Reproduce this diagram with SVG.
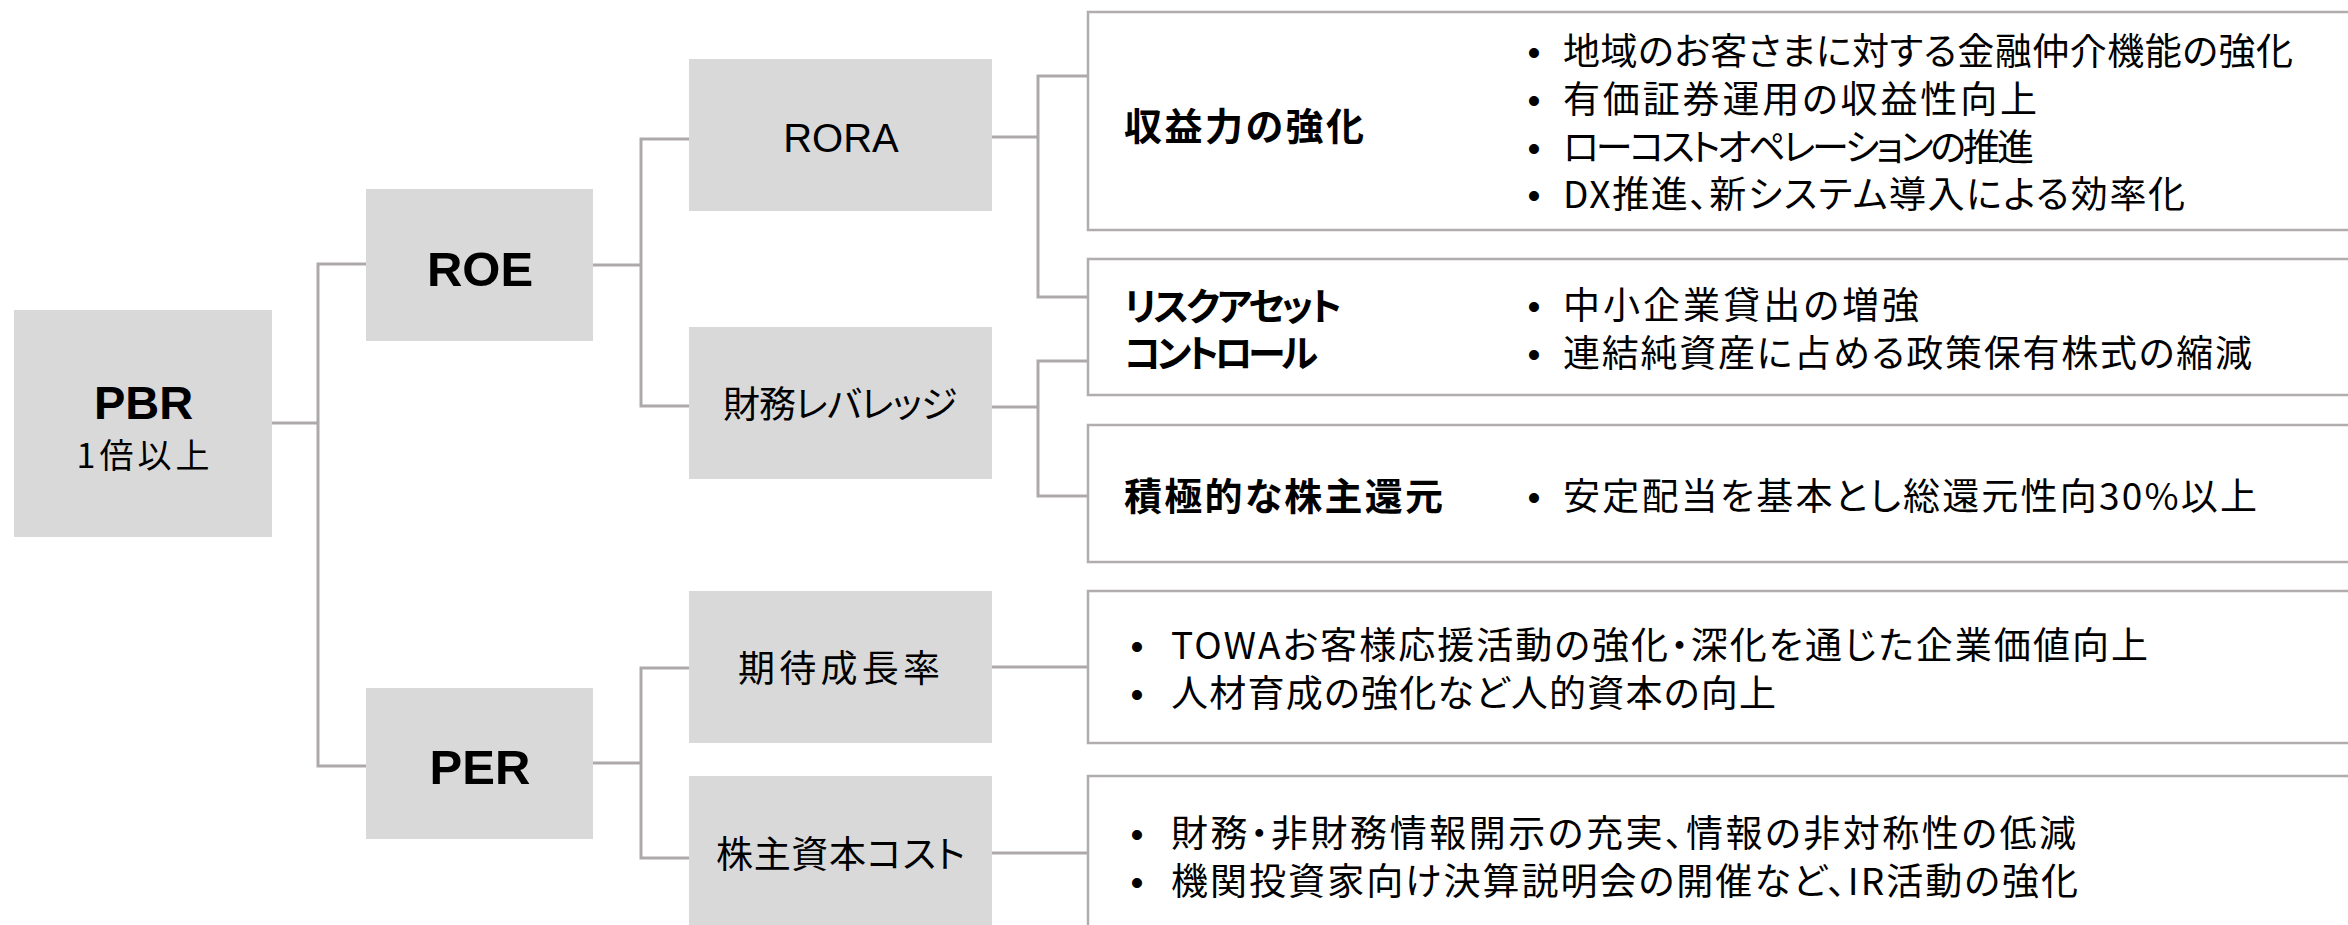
<svg xmlns="http://www.w3.org/2000/svg" width="2348" height="925" viewBox="0 0 2348 925">
<style>
.gbox{fill:#D9D9D9;}
.wbox{fill:#FFFFFF;stroke:#B1ADAD;stroke-width:2.5;}
.conn{fill:none;stroke:#ADA9A9;stroke-width:3;}
.jp{font-family:"Noto Sans CJK JP",sans-serif;font-size:37px;fill:#000;font-feature-settings:"palt" 1;}
.jpb{font-family:"Noto Sans CJK JP",sans-serif;font-size:38px;font-weight:bold;fill:#000;font-feature-settings:"palt" 1;}
.lat{font-family:"Liberation Sans",Arial,sans-serif;fill:#000;text-anchor:middle;}
.bul{font-family:"Liberation Sans",Arial,sans-serif;font-size:37px;fill:#000;text-anchor:middle;}
</style>
<rect width="2348" height="925" fill="#FFFFFF"/>
<g id="connectors">
<path class="conn" d="M272 423 H318"/>
<path class="conn" d="M366 264 H318 V766 H366"/>
<path class="conn" d="M593 265 H641"/>
<path class="conn" d="M689 139 H641 V406 H689"/>
<path class="conn" d="M593 763 H641"/>
<path class="conn" d="M689 668 H641 V858 H689"/>
<path class="conn" d="M992 137 H1038"/>
<path class="conn" d="M1088 76 H1038 V297 H1088"/>
<path class="conn" d="M992 407 H1038"/>
<path class="conn" d="M1088 361 H1038 V496 H1088"/>
<path class="conn" d="M992 667 H1088"/>
<path class="conn" d="M992 853 H1088"/>
</g>
<g id="pbr">
<rect class="gbox" x="14" y="310" width="258" height="227"/>
<text class="lat" x="143.5" y="419" font-size="47" font-weight="bold">PBR</text>
<text class="jp" x="143" y="468" text-anchor="middle" style="font-size:34px" textLength="133" lengthAdjust="spacing">1倍以上</text>
</g>
<g id="roe">
<rect class="gbox" x="366" y="189" width="227" height="152"/>
<text class="lat" x="480" y="286" font-size="49" font-weight="bold">ROE</text>
</g>
<g id="per">
<rect class="gbox" x="366" y="688" width="227" height="151"/>
<text class="lat" x="480" y="784" font-size="49" font-weight="bold">PER</text>
</g>
<g id="rora">
<rect class="gbox" x="689" y="59" width="303" height="152"/>
<text class="lat" x="841" y="152" font-size="40">RORA</text>
</g>
<g id="leverage">
<rect class="gbox" x="689" y="327" width="303" height="152"/>
<text class="jp" x="723" y="418" textLength="234" lengthAdjust="spacing">財務レバレッジ</text>
</g>
<g id="growth">
<rect class="gbox" x="689" y="591" width="303" height="152"/>
<text class="jp" x="738" y="682" textLength="202" lengthAdjust="spacing">期待成長率</text>
</g>
<g id="cost">
<rect class="gbox" x="689" y="776" width="303" height="160"/>
<text class="jp" x="716" y="868" textLength="249" lengthAdjust="spacing">株主資本コスト</text>
</g>
<g id="box-earnings">
<rect class="wbox" x="1088" y="12" width="1300" height="218"/>
<text class="jpb" x="1124" y="140" textLength="240" lengthAdjust="spacing">収益力の強化</text>
<text class="bul" x="1534" y="65">•</text>
<text class="jp" x="1563" y="65" textLength="730" lengthAdjust="spacing">地域のお客さまに対する金融仲介機能の強化</text>
<text class="bul" x="1534" y="113">•</text>
<text class="jp" x="1563" y="113" textLength="474" lengthAdjust="spacing">有価証券運用の収益性向上</text>
<text class="bul" x="1534" y="161">•</text>
<text class="jp" x="1563" y="161" textLength="471" lengthAdjust="spacing">ローコストオペレーションの推進</text>
<text class="bul" x="1534" y="208">•</text>
<text class="jp" x="1563" y="208" textLength="622" lengthAdjust="spacing">DX推進、新システム導入による効率化</text>
</g>
<g id="box-risk">
<rect class="wbox" x="1088" y="259" width="1300" height="136"/>
<text class="jpb" x="1124" y="320" textLength="218" lengthAdjust="spacing">リスクアセット</text>
<text class="jpb" x="1124" y="367" textLength="194" lengthAdjust="spacing">コントロール</text>
<text class="bul" x="1534" y="319">•</text>
<text class="jp" x="1563" y="319" textLength="356" lengthAdjust="spacing">中小企業貸出の増強</text>
<text class="bul" x="1534" y="367">•</text>
<text class="jp" x="1563" y="367" textLength="689" lengthAdjust="spacing">連結純資産に占める政策保有株式の縮減</text>
</g>
<g id="box-return">
<rect class="wbox" x="1088" y="425" width="1300" height="137"/>
<text class="jpb" x="1124" y="510" textLength="319" lengthAdjust="spacing">積極的な株主還元</text>
<text class="bul" x="1534" y="510">•</text>
<text class="jp" x="1563" y="510" textLength="694" lengthAdjust="spacing">安定配当を基本とし総還元性向30%以上</text>
</g>
<g id="box-growth">
<rect class="wbox" x="1088" y="591" width="1300" height="152"/>
<text class="bul" x="1137" y="659">•</text>
<text class="jp" x="1171" y="659" textLength="977" lengthAdjust="spacing">TOWAお客様応援活動の強化・深化を通じた企業価値向上</text>
<text class="bul" x="1137" y="707">•</text>
<text class="jp" x="1171" y="707" textLength="605" lengthAdjust="spacing">人材育成の強化など人的資本の向上</text>
</g>
<g id="box-cost">
<rect class="wbox" x="1088" y="776" width="1300" height="200"/>
<text class="bul" x="1137" y="847">•</text>
<text class="jp" x="1171" y="847" textLength="905" lengthAdjust="spacing">財務・非財務情報開示の充実、情報の非対称性の低減</text>
<text class="bul" x="1137" y="895">•</text>
<text class="jp" x="1171" y="895" textLength="907" lengthAdjust="spacing">機関投資家向け決算説明会の開催など、IR活動の強化</text>
</g>
</svg>
